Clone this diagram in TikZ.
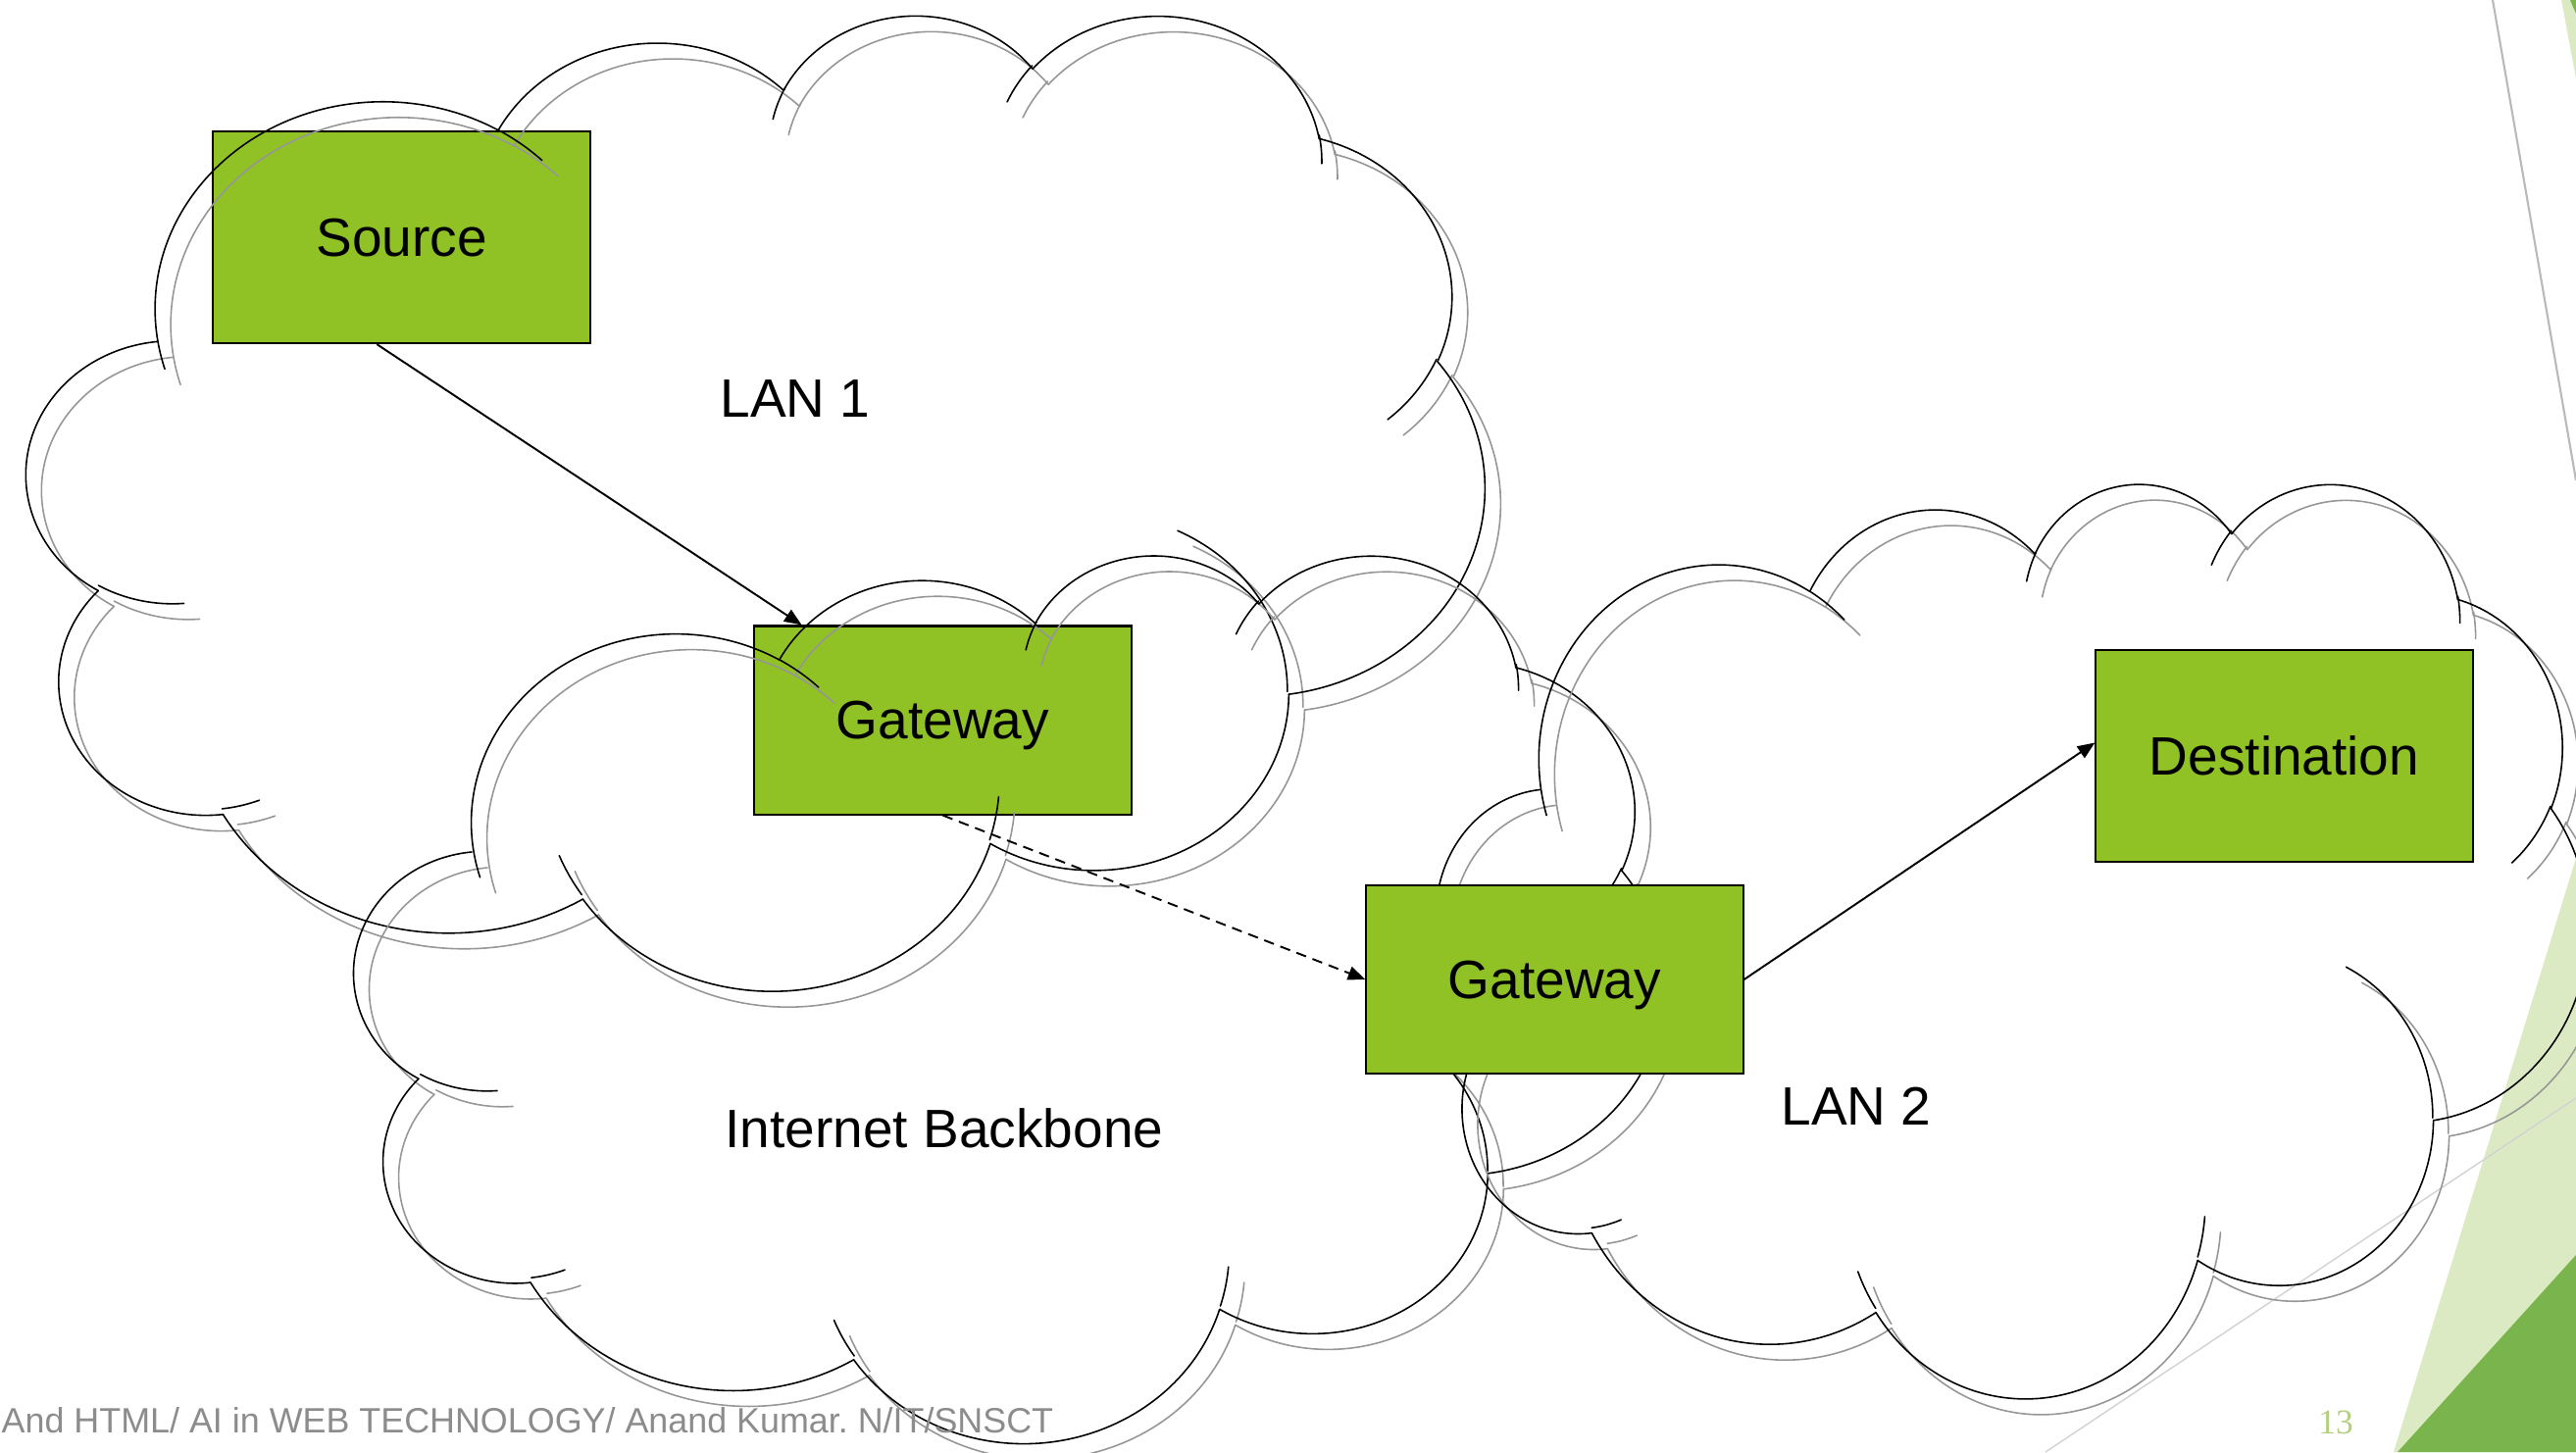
\documentclass[tikz,border=0pt]{standalone}
\usepackage{fontspec}
\setmainfont{Liberation Sans}
\newfontfamily\pagenumfont{Liberation Serif}
\usetikzlibrary{arrows.meta,positioning}
\frenchspacing

\definecolor{boxgreen}{HTML}{90C226}
\definecolor{palegreen}{HTML}{DCEAC3}
\definecolor{deepgreen}{HTML}{7AB44C}
\definecolor{numgreen}{HTML}{B4CF7E}
\definecolor{footgray}{HTML}{8C8C8C}
\definecolor{shadowgray}{HTML}{969696}

\tikzset{
	box/.style={
		draw=black,
		line width=0.6pt,
		fill=boxgreen,
		minimum width=3.84cm,
		minimum height=1.92cm,
		inner sep=0pt,
		text height=14.16pt,
		text depth=3.32pt,
		font=\fontsize{15.65}{18}\selectfont
	},
	lbl/.style={font=\fontsize{15.65}{18}\selectfont},
	link/.style={
		draw,
		->,>={Triangle[length=5pt,width=4pt]},
		line width=0.55pt
	},
	cloudline/.style={draw=black,line width=0.45pt,line cap=round},
	cloudshadow/.style={draw=shadowgray,line width=0.45pt,line cap=round}
}

\newcommand\cloudarcs[1]{%
	\coordinate (cp) at (39,143.70);
	\foreach \cwr/\chr/\cst/\csw in {
		67.53/91.90/-190.4875/123.7805,
		53.33/72.67/-144.1024/89.9452,
		43.65/59.45/-145.8079/99.7230,
		48.57/65.95/-130.9861/117.2417,
		53.33/72.73/-78.7089/109.0269,
		67.75/92.20/-46.2673/130.2690,
		57.85/78.67/0.6250/114.0333,
		67.52/92.15/22.4516/115.1726,
		77.20/105.43/66.2426/75.4992,
		43.60/59.18/-274.9421/146.7356,
		43.45/59.45/-246.8285/152.5189}{
		\pgfmathsetmacro\cta{atan2(\cwr*sin(\cst),\chr*cos(\cst))}
		\pgfmathsetmacro\ctb{atan2(\cwr*sin(\cst+\csw),\chr*cos(\cst+\csw))}
		\pgfmathsetmacro\ctb{\cta+mod(\ctb-\cta+720,360)}
		\draw[#1] (cp) arc[start angle=\cta, end angle=\ctb, x radius=\cwr, y radius=\chr] coordinate (cp);
	}
	\foreach \cpx/\cpy/\cwr/\chr/\cst/\csw in {
		46.93/261.77/43.45/59.45/86.7420/26.4295,
		69.28/348.99/43.60/59.18/73.6105/11.4475,
		164.78/390.90/67.52/92.15/137.6242/14.0811,
		288.27/347.51/67.52/92.15/6.4533/15.9984,
		341.29/229.54/57.85/78.67/-70.2924/70.9174,
		417.98/153.54/53.33/72.73/30.3180/27.7515,
		383.24/54.26/48.57/65.95/-13.7443/14.8589,
		290.78/39.52/48.57/65.95/-149.1815/18.1954,
		221.41/47.20/43.65/59.45/-163.4943/17.6864,
		140.00/51.92/67.53/91.90/-66.7070/12.3194,
		41.27/157.89/67.53/91.90/157.6544/11.8582}{
		\coordinate (cp) at (\cpx,\cpy);
		\pgfmathsetmacro\cta{atan2(\cwr*sin(\cst),\chr*cos(\cst))}
		\pgfmathsetmacro\ctb{atan2(\cwr*sin(\cst+\csw),\chr*cos(\cst+\csw))}
		\pgfmathsetmacro\ctb{\cta+mod(\ctb-\cta+720,360)}
		\draw[#1] (cp) arc[start angle=\cta, end angle=\ctb, x radius=\cwr, y radius=\chr];
	}
}

\newcommand\cloud[4]{%
	\begin{scope}[shift={(#1+16,#2+16)},xscale=#3/432,yscale=#4/432]
		\cloudarcs{cloudshadow}
	\end{scope}
	\begin{scope}[shift={(#1,#2)},xscale=#3/432,yscale=#4/432]
		\cloudarcs{cloudline}
	\end{scope}
}

\begin{document}
\begin{tikzpicture}[x=0.01cm,y=-0.01cm]
	\useasboundingbox (0,0) rectangle (2627,1481);
	\clip (0,0) rectangle (2627,1481);

	\fill[palegreen] (2612,0) -- (2627,0) -- (2627,80) -- cycle;
	\fill[deepgreen] (2621,0) -- (2627,0) -- (2627,14) -- cycle;
	\draw[line width=0.6pt,gray!55] (2542,0) -- (2627,490);
	\fill[palegreen] (2441,1481) -- (2627,875) -- (2627,1481) -- cycle;
	\fill[deepgreen] (2445,1481) -- (2627,1280) -- (2627,1481) -- cycle;
	\draw[line width=0.4pt,gray!35] (2086,1481) -- (2627,1120);

	\node[box, minimum height=2.16cm] (src) at (409.5,242) {Source};
	\node[box] (gw1) at (961.5,734.5) {Gateway};

	\cloud{26}{13}{1487}{994}
	\cloud{362}{564}{1335}{905}
	\cloud{1465}{491}{1174}{932}

	\node[box] (gw2) at (1585.5,999) {Gateway};
	\node[box, minimum height=2.16cm] (dst) at (2329.5,771) {Destination};

	\node[lbl] (lan1) at (811,407) {LAN 1};
	\node[lbl] (backbone) at (963,1151) {Internet Backbone};
	\node[lbl] (lan2) at (1893,1128) {LAN 2};

	\draw[link] (src.257.8) -- (gw1.146.4);
	\draw[link, dash pattern=on 3pt off 2pt] (gw1.south) -- (gw2.west);
	\draw[link] (gw2.east) -- (dst.176.4);

	\node[anchor=base west, inner sep=0pt, text=footgray, font=\fontsize{10.2}{12}\selectfont] (foot) at (1,1461) {And HTML/ AI in WEB TECHNOLOGY/ Anand Kumar. N/IT/SNSCT};
	\node[anchor=base, inner sep=0pt, text=numgreen, font=\pagenumfont\fontsize{10.1}{12}\selectfont] (pnum) at (2382,1462) {13};
\end{tikzpicture}
\end{document}
